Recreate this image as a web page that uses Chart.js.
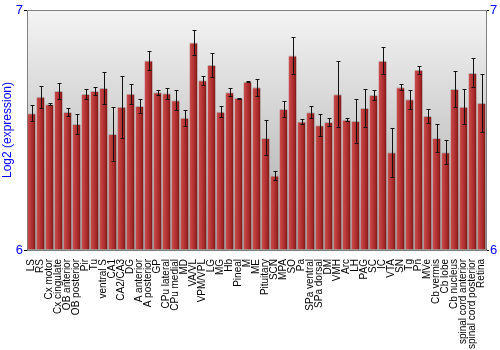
<!DOCTYPE html>
<html><head><meta charset="utf-8">
<script src="https://cdn.jsdelivr.net/npm/chart.js@4/dist/chart.umd.min.js"></script>
<style>html,body{margin:0;padding:0;background:#fff}#wrap{width:500px;height:350px}</style>
</head><body><div id="wrap"><canvas id="c" width="500" height="350"></canvas></div>
<script>
const categories = ["LS","RS","Cx motor","Cx cingulate","OB anterior","OB posterior","Pir","Tu","ventral S","CA1","CA2/CA3","DG","A anterior","A posterior","GP","CPu lateral","CPu medial","MD","VA/VL","VPM/VPL","LG","MG","Hb","Pineal","M","ME","Pituitary","SCN","MPA","SO","Pa","SPa ventral","SPa dorsal","DM","VMH","Arc","LH","PAG","SC","IC","VTA","SN","Tg","Pn","MVe","Cb vermis","Cb lobe","Cb nucleus","spinal cord anterior","spinal cord posterior","Retina"];
const values = [6.570,6.639,6.607,6.663,6.575,6.525,6.650,6.663,6.675,6.483,6.597,6.651,6.600,6.790,6.657,6.653,6.624,6.551,6.865,6.707,6.771,6.576,6.657,6.633,6.701,6.678,6.467,6.310,6.588,6.810,6.535,6.574,6.520,6.533,6.649,6.543,6.538,6.592,6.646,6.789,6.407,6.678,6.628,6.751,6.558,6.467,6.407,6.671,6.597,6.738,6.613];
const errors = [0.033,0.046,0.004,0.034,0.018,0.042,0.021,0.018,0.065,0.113,0.129,0.042,0.031,0.041,0.010,0.023,0.042,0.034,0.053,0.018,0.050,0.023,0.017,0.002,0.003,0.036,0.073,0.020,0.032,0.078,0.009,0.024,0.047,0.017,0.138,0.005,0.093,0.078,0.020,0.057,0.103,0.012,0.039,0.016,0.028,0.060,0.050,0.074,0.074,0.060,0.120];
const yTicks = [6, 7];

function barFill(ctx) {
  const chart = ctx.chart;
  const xs = chart.scales && chart.scales.x;
  if (!xs || ctx.dataIndex === undefined) return '#b03030';
  const cx = xs.getPixelForValue(ctx.dataIndex);
  if (!isFinite(cx)) return '#b03030';
  const g = chart.ctx.createLinearGradient(cx - 4, 0, cx + 4, 0);
  g.addColorStop(0, '#c85050');
  g.addColorStop(0.35, '#bc3a3a');
  g.addColorStop(0.75, '#a02626');
  g.addColorStop(1, '#701414');
  return g;
}

const bgPlugin = {
  id: 'bg',
  beforeDraw(chart) {
    const {ctx, chartArea: a} = chart;
    const g = ctx.createLinearGradient(0, a.top, 0, a.bottom);
    g.addColorStop(0, '#f4f4f4');
    g.addColorStop(1, '#a8a8a8');
    ctx.save();
    ctx.fillStyle = g;
    ctx.fillRect(a.left, a.top, a.right - a.left, a.bottom - a.top);
    ctx.restore();
  },
  afterDatasetsDraw(chart) {
    const {ctx, chartArea: a} = chart;
    const xs = chart.scales.x, ys = chart.scales.y;
    ctx.save();
    ctx.strokeStyle = '#111';
    ctx.lineWidth = 1;
    values.forEach((v, i) => {
      const x = Math.round(xs.getPixelForValue(i)) + 0.5;
      const y1 = Math.round(ys.getPixelForValue(v + errors[i])) + 0.5;
      const y2 = Math.round(ys.getPixelForValue(v - errors[i])) + 0.5;
      ctx.beginPath();
      ctx.moveTo(x, y1); ctx.lineTo(x, y2);
      ctx.moveTo(x - 2, y1); ctx.lineTo(x + 2, y1);
      ctx.moveTo(x - 2, y2); ctx.lineTo(x + 2, y2);
      ctx.stroke();
    });
    ctx.strokeStyle = '#808080';
    ctx.beginPath();
    ctx.moveTo(a.left, a.top + 0.5); ctx.lineTo(a.right, a.top + 0.5);
    ctx.stroke();
    ctx.restore();
  }
};

new Chart(document.getElementById('c'), {
  type: 'bar',
  data: {
    labels: categories,
    datasets: [{
      data: values,
      backgroundColor: barFill,
      borderColor: 'rgba(160,160,160,0.8)',
      borderWidth: {top: 1, left: 0, right: 0, bottom: 0},
      borderSkipped: false,
      categoryPercentage: 1,
      barPercentage: 0.89,
      base: 6
    }]
  },
  options: {
    responsive: false,
    animation: false,
    devicePixelRatio: 1,
    layout: {padding: {top: 10, left: 0, right: 0, bottom: 0}},
    plugins: {legend: {display: false}, tooltip: {enabled: false}},
    scales: {
      x: {
        offset: true,
        grid: {display: false},
        border: {display: true, color: '#808080'},
        ticks: {
          autoSkip: false, maxRotation: 90, minRotation: 90,
          color: '#000', padding: 1,
          font: {family: 'Liberation Sans, Arial, sans-serif', size: 10}
        },
        afterFit(s) { s.height = 100; }
      },
      y: {
        position: 'left',
        min: 6, max: 7,
        afterBuildTicks(s) { s.ticks = yTicks.map(v => ({value: v})); },
        grid: {drawOnChartArea: false, tickLength: 3, tickColor: '#000'},
        border: {display: true, color: '#808080'},
        ticks: {color: '#0000ff', padding: 1, font: {family: 'Liberation Sans, Arial, sans-serif', size: 13}},
        title: {display: true, text: 'Log2 (expression)', color: '#0000ff', padding: 0,
                font: {family: 'Liberation Sans, Arial, sans-serif', size: 12}},
        afterFit(s) { s.width = 27; }
      },
      y2: {
        position: 'right',
        min: 6, max: 7,
        afterBuildTicks(s) { s.ticks = yTicks.map(v => ({value: v})); },
        grid: {drawOnChartArea: false, tickLength: 3, tickColor: '#000'},
        border: {display: true, color: '#808080'},
        ticks: {color: '#0000ff', padding: 1, font: {family: 'Liberation Sans, Arial, sans-serif', size: 13}},
        afterFit(s) { s.width = 14; }
      }
    }
  },
  plugins: [bgPlugin]
});
</script>
</body></html>
